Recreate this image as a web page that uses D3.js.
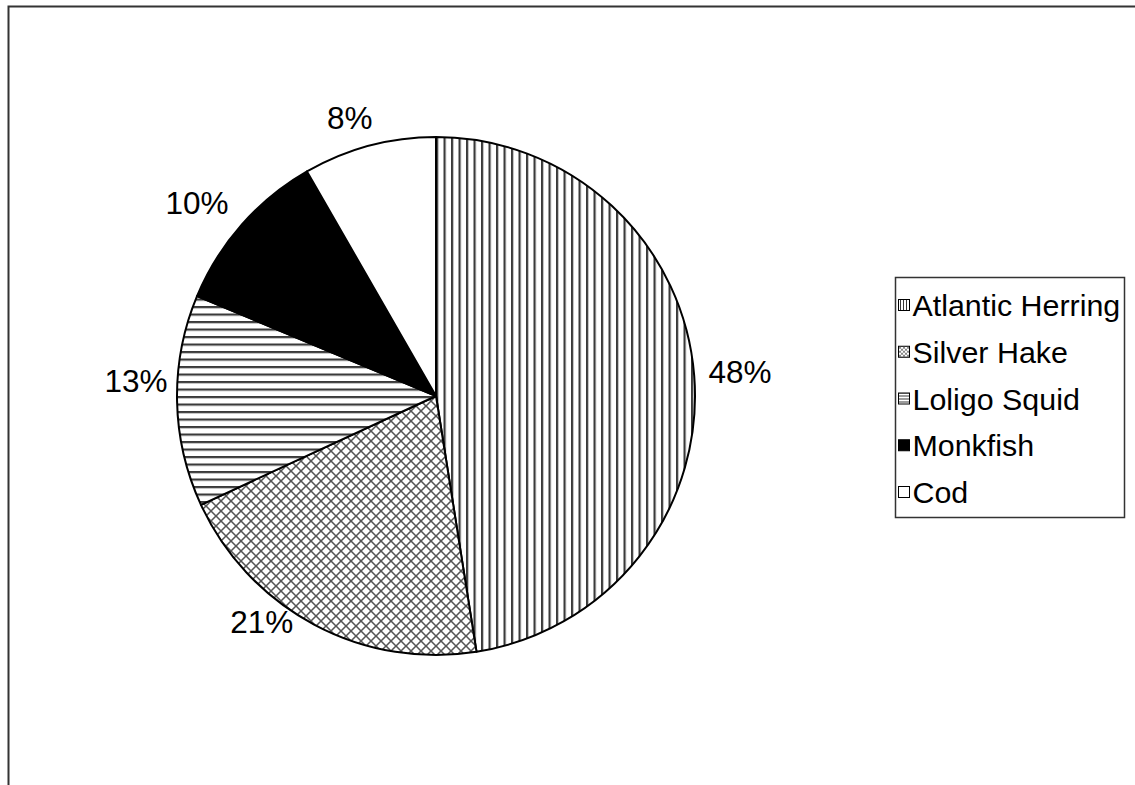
<!DOCTYPE html>
<html>
<head>
<meta charset="utf-8">
<script src="https://cdn.jsdelivr.net/npm/d3@7"></script>
<style>
  html, body { margin: 0; padding: 0; background: #fff; }
  svg { display: block; }
  text { font-family: "Liberation Sans", Arial, sans-serif; fill: #000; }
</style>
</head>
<body>
<svg id="chart" width="1135" height="785"></svg>
<script>
// ---- data ----
const categories = ["Atlantic Herring", "Silver Hake", "Loligo Squid", "Monkfish", "Cod"];
const values = [47.5, 20.6, 13.2, 10.4, 8.3];
const patterns = ["vert", "cross", "horiz", "solid", "none"];

// ---- layout (label nudges, px) ----
const labelNudgeX = [5, -33, 0, -14, -9];
const labelNudgeY = [0, -39, -21, 5, 12];

const W = 1135, H = 785;
const cx = 436, cy = 396, R = 259;
const legendFont = 30.4, labelFont = 31.5;

const svg = d3.select("#chart");
const defs = svg.append("defs");

function makePatterns(prefix, step, sw, cstep) {
  const v = defs.append("pattern").attr("id", prefix + "vert")
    .attr("patternUnits", "userSpaceOnUse").attr("width", step).attr("height", step);
  v.append("rect").attr("width", step).attr("height", step).attr("fill", "#fff");
  v.append("rect").attr("x", 0).attr("y", 0).attr("width", sw).attr("height", step).attr("fill", "#3a3a3a");

  const h = defs.append("pattern").attr("id", prefix + "horiz")
    .attr("patternUnits", "userSpaceOnUse").attr("width", step).attr("height", step);
  h.append("rect").attr("width", step).attr("height", step).attr("fill", "#fff");
  h.append("rect").attr("x", 0).attr("y", 0).attr("width", step).attr("height", sw).attr("fill", "#3a3a3a");

  const cs = cstep;
  const c = defs.append("pattern").attr("id", prefix + "cross")
    .attr("patternUnits", "userSpaceOnUse").attr("width", cs).attr("height", cs);
  c.append("rect").attr("width", cs).attr("height", cs).attr("fill", "#fff");
  c.append("path").attr("d", `M${-cs/2},${cs/2} L${cs/2},${-cs/2} M0,${cs} L${cs},0 M${cs/2},${cs*1.5} L${cs*1.5},${cs/2}`)
    .attr("stroke", "#555").attr("stroke-width", sw * 0.7).attr("fill", "none");
  c.append("path").attr("d", `M${-cs/2},${cs/2} L${cs/2},${cs*1.5} M0,0 L${cs},${cs} M${cs/2},${-cs/2} L${cs*1.5},${cs/2}`)
    .attr("stroke", "#555").attr("stroke-width", sw * 0.7).attr("fill", "none");
}
makePatterns("p-", 7.5, 2.2, 10);
makePatterns("l-", 3, 1, 4);

function fillFor(p, prefix) {
  if (p === "solid") return "#000";
  if (p === "none") return "#fff";
  return `url(#${prefix}${p})`;
}

svg.append("rect").attr("width", W).attr("height", H).attr("fill", "#fff");

// outer chart border (only top and left visible)
svg.append("path")
  .attr("d", `M8.5,${H} L8.5,6.5 L${W},6.5`)
  .attr("fill", "none").attr("stroke", "#333").attr("stroke-width", 2);

const data = categories.map((c, i) => ({ name: c, value: values[i], pattern: patterns[i], i }));
const total = d3.sum(values);

const pie = d3.pie().value(d => d.value).sort(null);
const arcs = pie(data);
const arc = d3.arc().innerRadius(0).outerRadius(R);

const g = svg.append("g").attr("transform", `translate(${cx},${cy})`);
g.selectAll("path.slice").data(arcs).enter().append("path")
  .attr("class", "slice")
  .attr("d", arc)
  .attr("fill", d => fillFor(d.data.pattern, "p-"))
  .attr("stroke", "#000").attr("stroke-width", 2).attr("stroke-linejoin", "round");

// labels
const labelArc = d3.arc().innerRadius(300).outerRadius(300);
const fmt = v => Math.round(v / total * 100) + "%";
g.selectAll("text.lbl").data(arcs).enter().append("text")
  .attr("class", "lbl")
  .attr("x", d => labelArc.centroid(d)[0] + labelNudgeX[d.data.i])
  .attr("y", d => labelArc.centroid(d)[1] + labelNudgeY[d.data.i])
  .attr("text-anchor", "middle").attr("dominant-baseline", "central")
  .attr("font-size", labelFont)
  .text(d => fmt(d.value));

// legend
const lx = 895.5, ly = 277.5, lw = 229, lh = 240;
svg.append("rect").attr("x", lx).attr("y", ly).attr("width", lw).attr("height", lh)
  .attr("fill", "#fff").attr("stroke", "#333").attr("stroke-width", 1.5);
const rowY = d3.scalePoint().domain(categories).range([305, 492]);
const leg = svg.selectAll("g.leg").data(data).enter().append("g").attr("class", "leg")
  .attr("transform", d => `translate(0,${rowY(d.name)})`);
leg.append("rect").attr("x", 898.5).attr("y", -5.5).attr("width", 11).attr("height", 11)
  .attr("fill", d => fillFor(d.pattern, "l-")).attr("stroke", "#000").attr("stroke-width", 1);
leg.append("text").attr("x", 912.5).attr("y", 11).attr("font-size", legendFont).text(d => d.name);
</script>
</body>
</html>
